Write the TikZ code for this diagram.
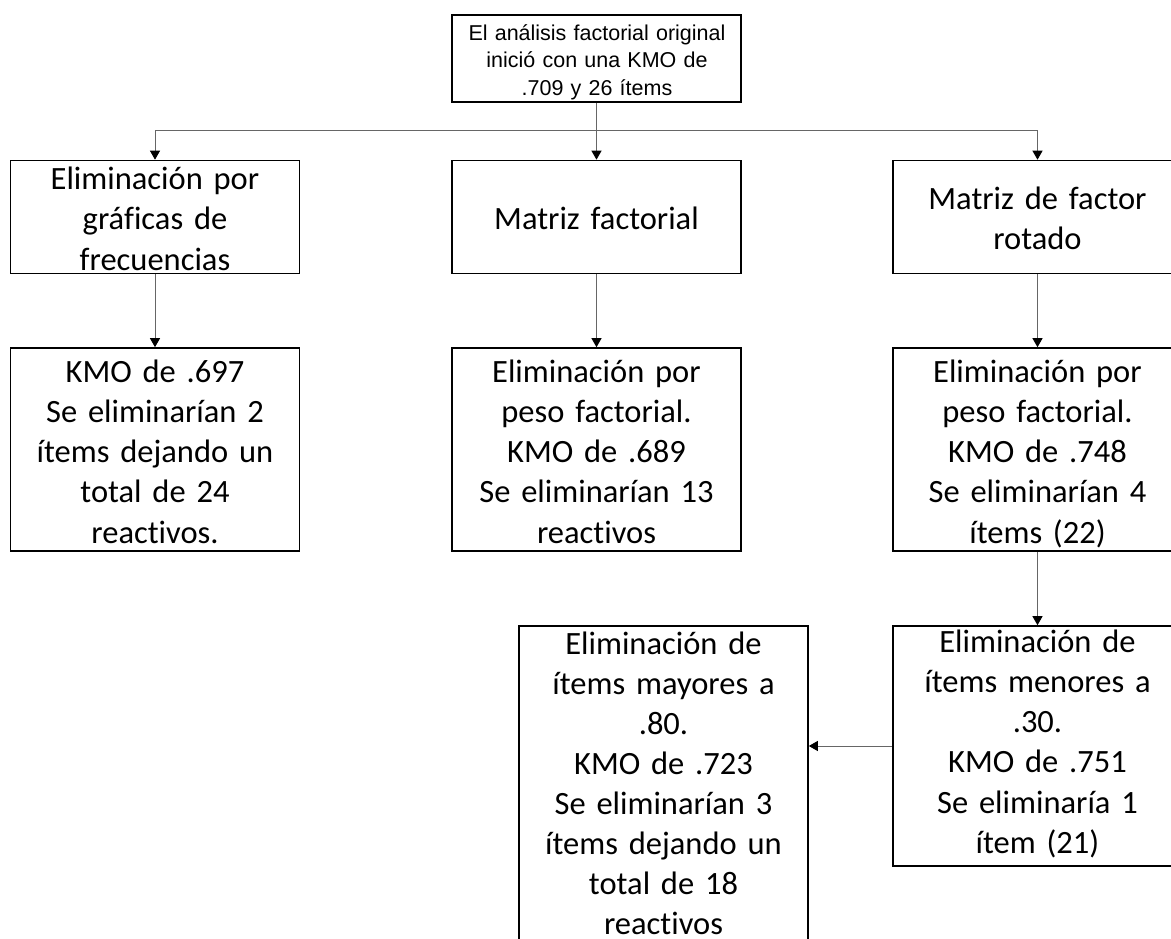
\documentclass[tikz,border=0pt]{standalone}
\usepackage{fontspec}
\setmainfont{Carlito}[Ligatures={NoCommon}]
\newfontfamily\arialf{Liberation Sans}
\usetikzlibrary{arrows.meta}
\begin{document}
\begin{tikzpicture}[x=1pt,y=-1pt,
  box/.style={draw=black, line width=1.6pt, minimum width=289pt, inner sep=0pt, rectangle},
  txt/.style={inner sep=0pt, text width=289pt, align=center, font=\fontsize{32.5}{40.2}\selectfont, anchor=north},
  conn/.style={draw=black!60, line width=1pt, -{Triangle[width=10pt,length=9pt,color=black,fill=black]}},
  plain/.style={draw=black!60, line width=1pt}]
\useasboundingbox (0,0) rectangle (1171,939);
\clip (0,0) rectangle (1171,939);
% boxes
\node[box, minimum height=87pt] (T) at (596.5,58.5) {};
\node[box, minimum height=113pt] (A) at (155,217) {};
\node[box, minimum height=113pt] (B) at (596.5,217) {};
\node[box, minimum height=113pt] (C) at (1037.5,217) {};
\node[box, minimum height=203pt] (D) at (155,449.5) {};
\node[box, minimum height=203pt] (E) at (596.5,449.5) {};
\node[box, minimum height=203pt] (F) at (1037.5,449.5) {};
\node[box, minimum height=240pt] (G) at (1037.5,746) {};
\node[box, minimum height=340pt] (H) at (663.5,796) {};
% texts
\node[txt, font=\arialf\fontsize{21.5}{27.5}\selectfont] (Tt) at (597,15) {\rule{0pt}{25pt}El análisis factorial original\\inició con una KMO de\\.709 y 26 ítems};
\node[txt] (At) at (155,159.5) {\rule{0pt}{30pt}Eliminación por\\gráficas de\\frecuencias};
\node[txt] (Bt) at (596.5,199.5) {\rule{0pt}{30pt}Matriz factorial};
\node[txt] (Ct) at (1037.5,179.5) {\rule{0pt}{30pt}Matriz de factor\\rotado};
\node[txt] (Dt) at (155,352) {\rule{0pt}{30pt}KMO de .697\\Se eliminarían 2\\ítems dejando un\\total de 24\\reactivos.};
\node[txt] (Et) at (596.5,352) {\rule{0pt}{30pt}Eliminación por\\peso factorial.\\KMO de .689\\Se eliminarían 13\\reactivos};
\node[txt] (Ft) at (1037.5,352) {\rule{0pt}{30pt}Eliminación por\\peso factorial.\\KMO de .748\\Se eliminarían 4\\ítems (22)};
\node[txt] (Gt) at (1037.5,622) {\rule{0pt}{30pt}Eliminación de\\ítems menores a\\.30.\\KMO de .751\\Se eliminaría 1\\ítem (21)};
\node[txt, font=\fontsize{32.5}{40}\selectfont] (Ht) at (663.5,624.5) {\rule{0pt}{30pt}Eliminación de\\ítems mayores a\\.80.\\KMO de .723\\Se eliminarían 3\\ítems dejando un\\total de 18\\reactivos};
% connectors
\coordinate (J) at (596.5,130.5);
\draw[plain] (T.south) -- (J);
\draw[conn] (J) -| (A.north);
\draw[conn] (J) -- (B.north);
\draw[conn] (J) -| (C.north);
\draw[conn] (A.south) -- (D.north);
\draw[conn] (B.south) -- (E.north);
\draw[conn] (C.south) -- (F.north);
\draw[conn] (F.south) -- (G.north);
\draw[conn] (G.west) -- (G.west -| H.east);
\end{tikzpicture}
\end{document}
